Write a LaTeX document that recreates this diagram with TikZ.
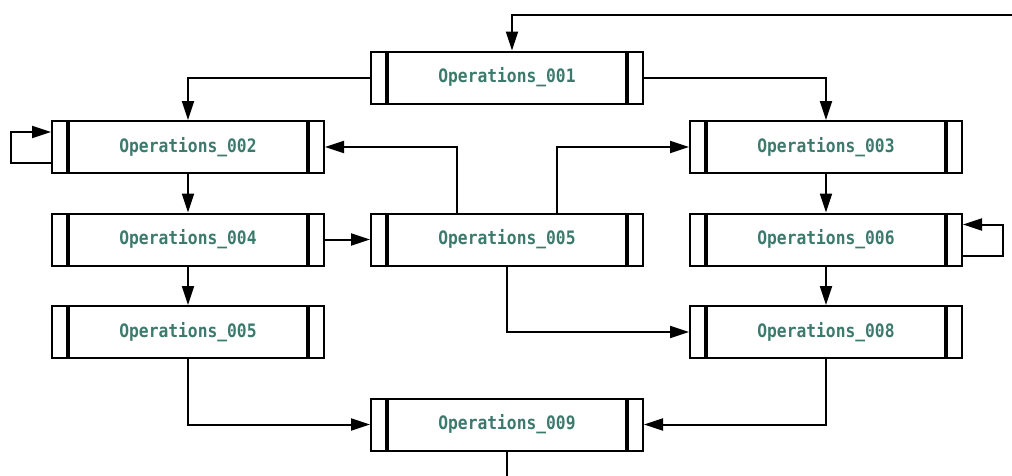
\documentclass[tikz,border=0pt]{standalone}
\usepackage{fontspec}
\usetikzlibrary{matrix,arrows.meta}
\newfontfamily\opsfont[FakeStretch=0.88]{DejaVu Sans Mono}
\definecolor{opsteal}{RGB}{61,122,110}
\tikzset{
	proc/.style={draw, line width=2pt, fill=white, minimum width=272pt, minimum height=52pt, inner sep=0pt,
		font=\opsfont\bfseries\fontsize{18.5}{20}\selectfont, text=opsteal,
		path picture={\draw[line width=3.2pt]
			([xshift=16pt]path picture bounding box.south west) -- ([xshift=16pt]path picture bounding box.north west)
			([xshift=-16pt]path picture bounding box.south east) -- ([xshift=-16pt]path picture bounding box.north east);}},
	flow/.style={line width=2pt, -{Triangle[length=19pt,width=12pt]}}
}
\begin{document}
\begin{tikzpicture}[x=1pt, y=-1pt]
			\useasboundingbox (0,0) rectangle (1012,475);
			\matrix (b) at (507,251) [matrix of nodes, nodes={proc}, row sep=38.5pt, column sep=45pt]
			{
				& Operations\_001 & \\[-23pt]
				Operations\_002 & & Operations\_003 \\
				Operations\_004 & Operations\_005 & Operations\_006 \\
				Operations\_005 & & Operations\_008 \\
				& Operations\_009 & \\
			};
			\coordinate (feed) at (1012,15);
			\coordinate (out) at ([yshift=-40pt]b-5-2.south);
			\draw[flow] (feed) -| ([xshift=5pt]b-1-2.north);
			\draw[flow] (b-1-2.west) -| (b-2-1.north);
			\draw[flow] (b-1-2.east) -| (b-2-3.north);
			\draw[flow] ([yshift=-16pt]b-2-1.west) -- ++(-40pt,0pt) |- ([yshift=15pt]b-2-1.west);
			\draw[flow] ([yshift=-16pt]b-3-3.east) -- ++(40pt,0pt) |- ([yshift=15pt]b-3-3.east);
			\draw[flow] ([xshift=-50pt]b-3-2.north) |- (b-2-1.east);
			\draw[flow] ([xshift=50pt]b-3-2.north) |- (b-2-3.west);
			\draw[flow] (b-3-2.south) |- (b-4-3.west);
			\draw[flow] (b-3-1) -- (b-3-2);
			\draw[flow] (b-2-1) -- (b-3-1);
			\draw[flow] (b-3-1) -- (b-4-1);
			\draw[flow] (b-2-3) -- (b-3-3);
			\draw[flow] (b-3-3) -- (b-4-3);
			\draw[flow] (b-4-1.south) |- (b-5-2.west);
			\draw[flow] (b-4-3.south) |- (b-5-2.east);
			\draw[line width=2pt] (b-5-2.south) -- (out);
\end{tikzpicture}
\end{document}
